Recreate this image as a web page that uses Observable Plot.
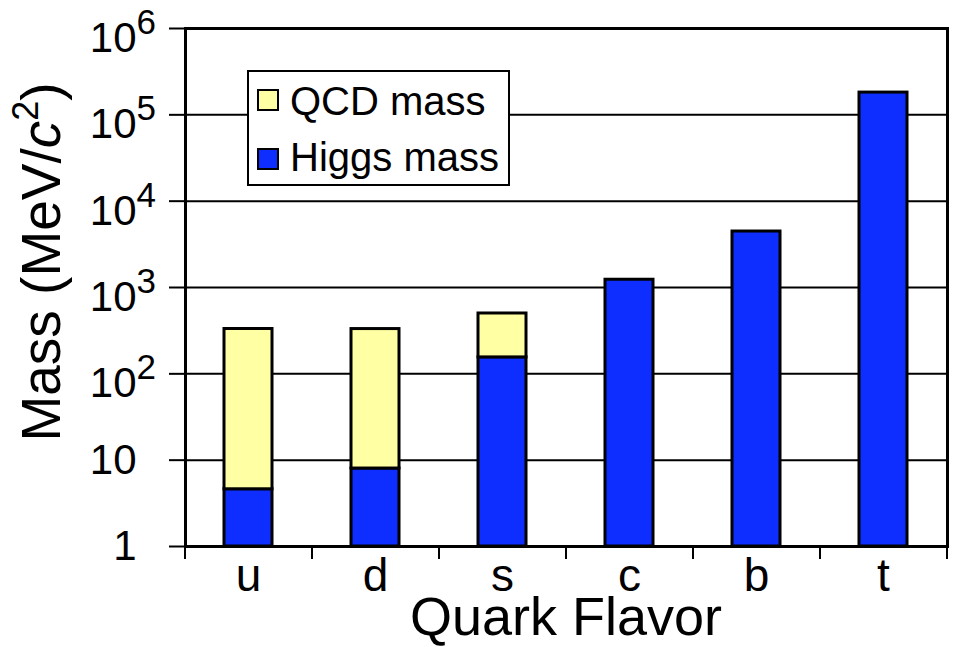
<!DOCTYPE html>
<html>
<head>
<meta charset="utf-8">
<script src="https://cdn.jsdelivr.net/npm/d3@7"></script>
<script src="https://cdn.jsdelivr.net/npm/@observablehq/plot@0.6"></script>
<style>
  body { margin: 0; background: #fff; }
  #chart { position: relative; width: 955px; height: 647px; font-family: "Liberation Sans", Arial, sans-serif; }
  .legend { position: absolute; left: 247px; top: 70px; width: 259px; height: 112px; border: 2px solid #000; background: #fff; }
  .legend .sw { position: absolute; left: 8px; width: 18px; height: 18px; border: 2px solid #000; }
  .legend .lab { position: absolute; left: 41px; font-size: 40px; line-height: 1; color: #000; white-space: nowrap; }
</style>
</head>
<body>
<div id="chart"></div>
<script>
// Quark masses (MeV/c^2): current (Higgs) mass plus the QCD contribution
const quarks = ["u", "d", "s", "c", "b", "t"];
const higgsMass = [4.6, 8.0, 155, 1230, 4450, 181000];
const qcdMass = [326, 322, 345, 0, 0, 0];

// Logarithmic y ticks, written as 10^n
const yTicks = [1, 10, 100, 1e3, 1e4, 1e5, 1e6];
const yTickBase = ["1", "10", "10", "10", "10", "10", "10"];
const yTickExp = ["", "", "2", "3", "4", "5", "6"];

const seriesNames = ["QCD mass", "Higgs mass"];
const seriesColors = ["#ffffa3", "#0d2eff"];

const rows = quarks.map((q, i) => ({
  quark: q,
  higgs: higgsMass[i],
  qcd: qcdMass[i],
  total: higgsMass[i] + qcdMass[i]
}));

const W = 955, H = 647;
const mL = 185, mR = 8, mT = 28, mB = 101;
const pInner = 0.62, pOuter = 0.31;
// distance between neighbouring category centres
const step = (W - mL - mR) / (quarks.length - pInner + 2 * pOuter);

const plot = Plot.plot({
  width: W,
  height: H,
  marginLeft: mL,
  marginRight: mR,
  marginTop: mT,
  marginBottom: mB,
  style: { fontFamily: "Liberation Sans, Arial, sans-serif", color: "#000", background: "#fff" },
  x: { type: "band", domain: quarks, paddingInner: pInner, paddingOuter: pOuter },
  y: { type: "log", domain: [1, 1e6] },
  marks: [
    Plot.ruleY(yTicks, { stroke: "#000", strokeWidth: 2 }),
    Plot.barY(rows, { x: "quark", y1: () => 1, y2: "higgs", fill: seriesColors[1], stroke: "#000", strokeWidth: 3 }),
    Plot.barY(rows.filter(d => d.qcd > 0), { x: "quark", y1: "higgs", y2: "total", fill: seriesColors[0], stroke: "#000", strokeWidth: 3 }),
    // category separators below the x axis
    Plot.ruleX(quarks, { x: d => d, dx: -step / 2, y1: () => 1, y2: () => 1, insetBottom: -13, stroke: "#000", strokeWidth: 2 }),
    Plot.ruleX(quarks.slice(-1), { x: d => d, dx: step / 2, y1: () => 1, y2: () => 1, insetBottom: -13, stroke: "#000", strokeWidth: 2 }),
    Plot.frame({ stroke: "#000", strokeWidth: 3 }),
    Plot.axisY({
      ticks: yTicks,
      tickSize: 16,
      tickPadding: 33,
      fontSize: 42,
      strokeWidth: 2,
      tickFormat: d => yTickBase[yTicks.indexOf(d)],
      label: null
    }),
    Plot.axisX({ tickSize: 0, tickPadding: 12, fontSize: 46, label: null })
  ]
});

const svg = d3.select(plot);

// raise the exponents of the y tick labels
svg.selectAll('g[aria-label="y-axis tick label"] text').each(function (_, i) {
  const exp = yTickExp[i];
  if (!exp) return;
  const t = d3.select(this);
  t.attr("y", "0.56em");
  t.append("tspan")
    .attr("x", 0)
    .attr("dy", -18)
    .attr("text-anchor", "start")
    .attr("font-size", 35)
    .text(exp);
});

// axis titles
svg.append("text")
  .attr("x", (mL + W - mR) / 2)
  .attr("y", 635)
  .attr("text-anchor", "middle")
  .attr("font-size", 54)
  .attr("fill", "#000")
  .text("Quark Flavor");

const yTitle = svg.append("text")
  .attr("transform", "translate(60,262) rotate(-90)")
  .attr("text-anchor", "middle")
  .attr("font-size", 55)
  .attr("fill", "#000");
yTitle.append("tspan").text("Mass (MeV/");
yTitle.append("tspan").attr("font-style", "italic").text("c");
yTitle.append("tspan").attr("font-size", 36).attr("dy", -22).text("2");
yTitle.append("tspan").attr("dy", 22).text(")");

const chart = document.getElementById("chart");
chart.appendChild(plot);

// legend box
const legend = d3.select(chart).append("div").attr("class", "legend");
const legendTops = [17, 76];
const labelTops = [9, 65];
seriesNames.forEach((name, i) => {
  legend.append("div").attr("class", "sw")
    .style("top", legendTops[i] + "px")
    .style("background", seriesColors[i]);
  legend.append("div").attr("class", "lab")
    .style("top", labelTops[i] + "px")
    .text(name);
});
</script>
</body>
</html>
